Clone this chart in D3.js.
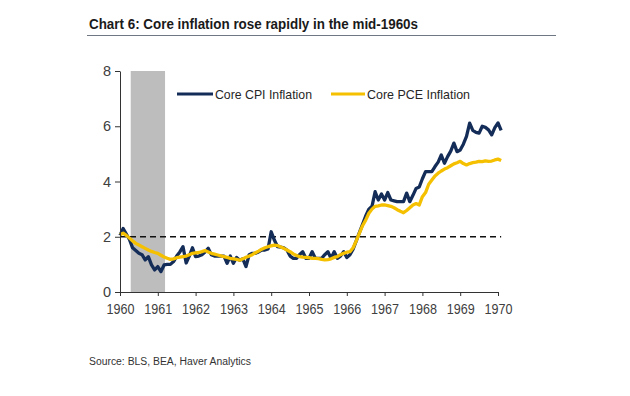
<!DOCTYPE html>
<html><head><meta charset="utf-8">
<script src="https://cdn.jsdelivr.net/npm/d3@7"></script>
<style>
body{margin:0;background:#fff;}
svg{display:block;font-family:"Liberation Sans",Arial,sans-serif;}
</style></head>
<body><svg id="c" width="630" height="396"></svg>
<script>
const yearLabels = ["1960","1961","1962","1963","1964","1965","1966","1967","1968","1969","1970"];
const yTicks = [0,2,4,6,8];
// Monthly, Jan 1960 .. Feb 1970
const cpi = [
2.05,2.3,2.1,1.9,1.6,1.5,1.4,1.35,1.16,1.28,0.98,0.8,
0.92,0.74,0.98,1.0,1.0,1.1,1.3,1.45,1.64,1.05,1.3,1.6,
1.28,1.3,1.35,1.45,1.58,1.35,1.3,1.3,1.3,1.3,1.04,1.3,
1.04,1.25,1.15,1.2,0.92,1.35,1.4,1.4,1.45,1.52,1.52,1.56,
2.18,1.88,1.64,1.62,1.6,1.52,1.3,1.22,1.22,1.35,1.46,1.22,
1.22,1.46,1.22,1.22,1.22,1.35,1.46,1.22,1.46,1.22,1.3,1.46,
1.25,1.35,1.55,1.85,2.15,2.45,2.75,3.0,3.1,3.63,3.33,3.55,
3.33,3.6,3.33,3.3,3.27,3.27,3.27,3.58,3.27,3.5,3.75,3.8,
4.1,4.36,4.36,4.36,4.54,4.7,4.96,4.66,4.9,5.1,5.39,5.08,
5.14,5.35,5.63,6.11,5.85,5.78,5.75,6.0,5.96,5.87,5.69,5.95,
6.12,5.85];
const pce = [
2.07,2.13,2.05,1.95,1.85,1.76,1.7,1.64,1.58,1.52,1.47,1.43,
1.4,1.33,1.27,1.22,1.18,1.2,1.24,1.26,1.28,1.3,1.35,1.4,
1.42,1.43,1.46,1.5,1.45,1.4,1.37,1.34,1.31,1.28,1.25,1.22,
1.2,1.18,1.15,1.2,1.26,1.3,1.35,1.42,1.48,1.55,1.6,1.64,
1.67,1.7,1.68,1.63,1.58,1.52,1.46,1.38,1.32,1.28,1.26,1.25,
1.24,1.22,1.22,1.21,1.18,1.16,1.17,1.2,1.25,1.28,1.35,1.4,
1.44,1.46,1.6,1.85,2.13,2.4,2.6,2.85,3.0,3.1,3.12,3.15,
3.15,3.13,3.1,3.05,2.98,2.92,2.87,2.95,3.05,3.15,3.2,3.15,
3.45,3.6,3.9,4.05,4.2,4.3,4.38,4.45,4.5,4.57,4.64,4.68,
4.73,4.65,4.6,4.65,4.68,4.7,4.73,4.72,4.75,4.73,4.74,4.78,
4.81,4.76];
const recession = [3, 14]; // months from Jan 1960 (Apr 1960 - Feb 1961)
const refLine = 2;

const svg = d3.select("#c");
const x = d3.scaleLinear().domain([0,120]).range([120,498]);
const y = d3.scaleLinear().domain([0,8]).range([292,71]);

// title
svg.append("text").attr("x",89).attr("y",29).attr("font-weight","bold")
  .attr("font-size",14).attr("fill","#1a1a1a")
  .attr("textLength",329).attr("lengthAdjust","spacingAndGlyphs")
  .text("Chart 6: Core inflation rose rapidly in the mid-1960s");
svg.append("line").attr("x1",87).attr("x2",556).attr("y1",35.5).attr("y2",35.5)
  .attr("stroke","#6f7784").attr("stroke-width",1);

// recession bar
svg.append("rect").attr("x",x(recession[0]+0.4)).attr("y",y(8))
  .attr("width",x(recession[1]+0.3)-x(recession[0]+0.4)).attr("height",y(0)-y(8))
  .attr("fill","#bdbdbd");

// dashed reference
svg.append("line").attr("x1",x(0)).attr("x2",x(121)).attr("y1",y(refLine)).attr("y2",y(refLine))
  .attr("stroke","#111").attr("stroke-width",1.5).attr("stroke-dasharray","6,4");

const line = d3.line().x((d,i)=>x(i)).y(d=>y(d));
svg.append("path").datum(cpi).attr("d",line).attr("fill","none")
  .attr("stroke","#142d58").attr("stroke-width",3.3).attr("stroke-linejoin","round");
svg.append("path").datum(pce).attr("d",line).attr("fill","none")
  .attr("stroke","#f5c000").attr("stroke-width",3.3).attr("stroke-linejoin","round");

// axes
const xAxis = d3.axisBottom(x).tickValues(d3.range(0,121,12))
  .tickFormat((d,i)=>yearLabels[i]).tickSize(4).tickSizeOuter(0);
const gx = svg.append("g").attr("transform",`translate(0,${y(0)})`).call(xAxis);
gx.select(".domain").attr("stroke","#333");
gx.selectAll(".tick line").attr("stroke","#333");
gx.selectAll("text").attr("font-size",14.5).attr("fill","#404040").attr("dy","1.0em")
  .attr("textLength",28).attr("lengthAdjust","spacingAndGlyphs")
  .style("font-family","'Liberation Sans',Arial,sans-serif");

const yAxis = d3.axisLeft(y).tickValues(yTicks).tickSize(5).tickSizeOuter(0);
const gy = svg.append("g").attr("transform",`translate(${x(0)},0)`).call(yAxis);
gy.select(".domain").attr("stroke","#333");
gy.selectAll(".tick line").attr("stroke","#333");
gy.selectAll("text").attr("font-size",14.5).attr("fill","#404040").attr("x",-9)
  .style("font-family","'Liberation Sans',Arial,sans-serif");

// legend
const legend = [
  {name:"Core CPI Inflation", color:"#142d58", x1:177, x2:213, tx:215, tl:97},
  {name:"Core PCE Inflation", color:"#f5c000", x1:331, x2:365, tx:367, tl:103}
];
legend.forEach(l=>{
  svg.append("line").attr("x1",l.x1).attr("x2",l.x2).attr("y1",94).attr("y2",94)
    .attr("stroke",l.color).attr("stroke-width",3);
  svg.append("text").attr("x",l.tx).attr("y",98.5).attr("font-size",13.5)
    .attr("fill","#262626").attr("textLength",l.tl).attr("lengthAdjust","spacingAndGlyphs")
    .text(l.name);
});

// source
svg.append("text").attr("x",89).attr("y",365).attr("font-size",10).attr("fill","#333")
  .attr("textLength",162).attr("lengthAdjust","spacingAndGlyphs")
  .text("Source: BLS, BEA, Haver Analytics");
</script></body></html>
